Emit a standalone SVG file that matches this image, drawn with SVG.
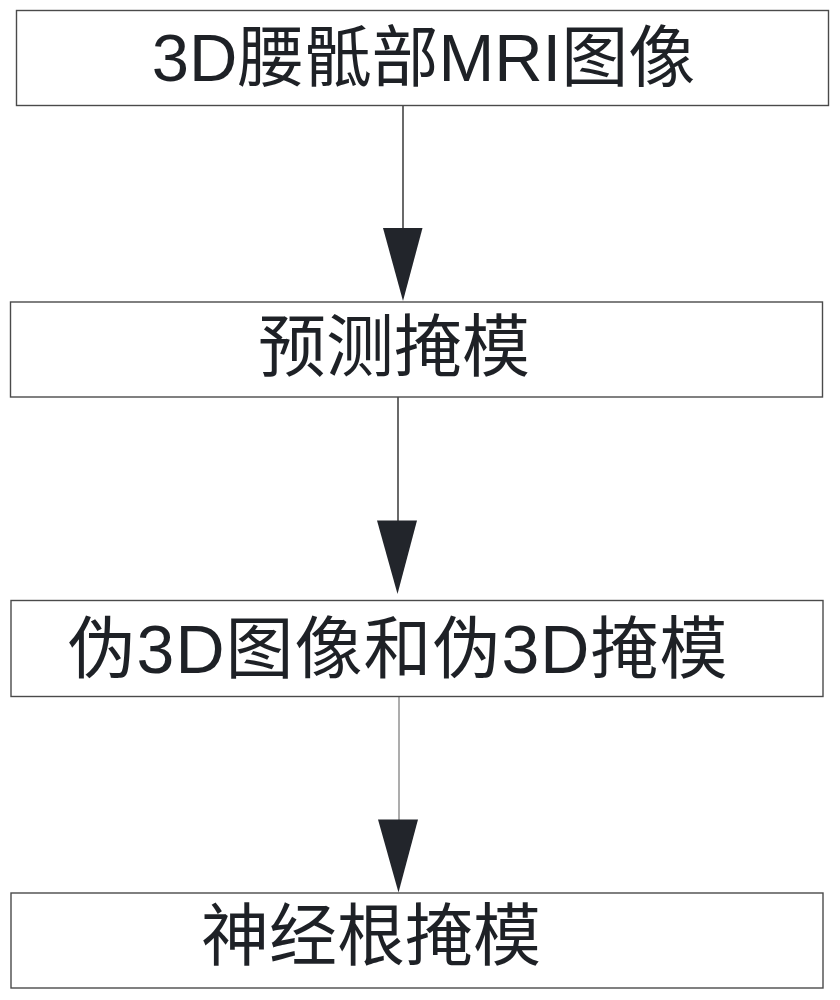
<svg xmlns="http://www.w3.org/2000/svg" width="840" height="1000" viewBox="0 0 840 1000">
<defs>
<style>
.box{fill:#ffffff;stroke:#4a4a4a;stroke-width:1.4}
.lbl{font-family:"Liberation Sans","Noto Sans CJK SC",sans-serif;fill:#1e2126;text-anchor:middle}
.ln{stroke:#2a2a2a;stroke-width:1.4;fill:none}
.ln-light{stroke:#8a8a8a;stroke-width:1.4;fill:none}
.head{fill:#22252b;stroke:none}
</style>
</defs>
<rect x="0" y="0" width="840" height="1000" fill="#ffffff"/>
<g id="connectors">
<g id="edge1">
<line class="ln" x1="403" y1="105" x2="403" y2="230"/>
<polygon class="head" points="383,228 422.5,228 403,301"/>
</g>
<g id="edge2">
<line class="ln" x1="398" y1="397" x2="398" y2="522"/>
<polygon class="head" points="377,520.5 417,520.5 397.5,594"/>
</g>
<g id="edge3">
<line class="ln-light" x1="399" y1="697" x2="399" y2="821"/>
<polygon class="head" points="378,819.5 418,819.5 398.5,892.5"/>
</g>
</g>
<g id="node1">
<rect class="box" x="16.5" y="10.5" width="812" height="95"/>
<text class="lbl" x="423.5" y="81" font-size="67">3D腰骶部MRI图像</text>
</g>
<g id="node2">
<rect class="box" x="10.5" y="302" width="812" height="95"/>
<text class="lbl" x="394" y="371" font-size="68">预测掩模</text>
</g>
<g id="node3">
<rect class="box" x="11" y="600.5" width="812" height="96"/>
<text class="lbl" x="398" y="673" font-size="68" letter-spacing="1">伪3D图像和伪3D掩模</text>
</g>
<g id="node4">
<rect class="box" x="11" y="893" width="812" height="95"/>
<text class="lbl" x="371" y="960" font-size="68">神经根掩模</text>
</g>
</svg>
